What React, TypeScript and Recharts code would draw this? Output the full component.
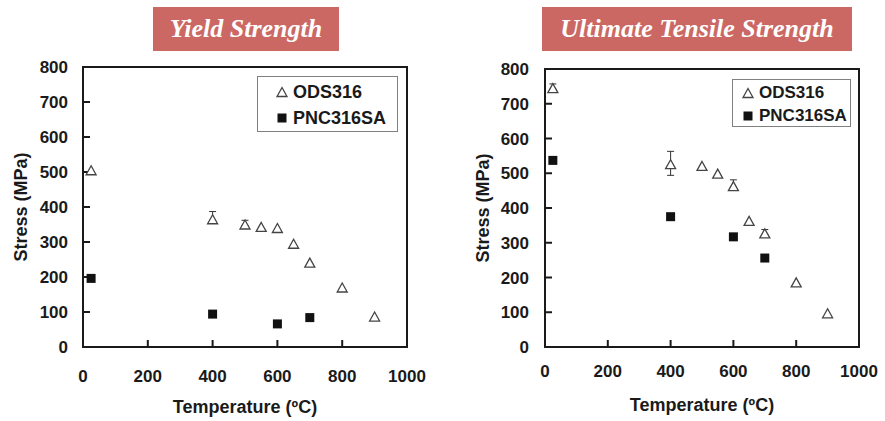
import React from "react";
import { ScatterChart, Scatter, XAxis, YAxis, ErrorBar, ReferenceArea, Legend } from "recharts";

// temperatures (ºC)
const odsTemps = [25, 400, 500, 550, 600, 650, 700, 800, 900];
const pncTemps = [25, 400, 600, 700];

// yield strength (MPa)
const odsYield = [505, 365, 350, 343, 340, 295, 241, 170, 87];
const odsYieldErr: ([number, number] | null)[] = [null, [5, 22], [3, 12], null, null, null, null, null, null];
const pncYield = [196, 94, 66, 84];

// ultimate tensile strength (MPa)
const odsUts = [745, 526, 521, 499, 463, 363, 327, 186, 97];
const odsUtsErr: ([number, number] | null)[] = [[3, 12], [32, 37], null, null, [5, 18], null, [3, 11], null, null];
const pncUts = [537, 375, 317, 256];

const xTicks = [0, 200, 400, 600, 800, 1000];
const yTicks = [0, 100, 200, 300, 400, 500, 600, 700, 800];

const FONT = "'Liberation Sans', Arial, sans-serif";
const INK = "#1a1a1a";

const Triangle = (props: any) => {
  const { cx, cy } = props;
  const w = 10, h = 9;
  return (
    <path
      d={`M${cx},${cy - h / 2}L${cx + w / 2},${cy + h / 2}L${cx - w / 2},${cy + h / 2}Z`}
      fill="#fff"
      stroke="#444"
      strokeWidth={1.3}
    />
  );
};

const Square = (props: any) => {
  const { cx, cy } = props;
  return <rect x={cx - 4.5} y={cy - 4.5} width={9} height={9} fill="#111" />;
};

function LegendBox({ payload, rowY, markerX, textX, fontSize }: any) {
  return (
    <div style={{ position: "relative", width: "100%", height: "100%", boxSizing: "border-box", border: "1.5px solid #808080", background: "#fff" }}>
      {(payload || []).map((p: any, i: number) => (
        <div key={p.value} style={{ position: "absolute", left: 0, top: rowY[i] - 12, height: 24, width: "100%" }}>
          <svg width={20} height={24} style={{ position: "absolute", left: markerX - 10, top: 0 }}>
            {i === 0 ? <Triangle cx={10} cy={12} /> : <Square cx={10} cy={12} />}
          </svg>
          <span style={{ position: "absolute", left: textX, top: 0, lineHeight: "24px", fontFamily: FONT, fontWeight: 700, fontSize, color: INK }}>
            {p.value}
          </span>
        </div>
      ))}
    </div>
  );
}

function StrengthChart({ width, margin, ods, odsErr, pnc, xTickMargin, yTickMargin, xLabelOffset, legend }: any) {
  const odsRows = odsTemps.map((t, i) => ({ t, s: ods[i], err: odsErr[i] ?? undefined }));
  const pncRows = pncTemps.map((t, i) => ({ t, s: pnc[i] }));
  const tickStyle = { fontFamily: FONT, fontWeight: 700, fontSize: 17, fill: INK };
  const labelStyle = { fontFamily: FONT, fontWeight: 700, fontSize: 18, fill: INK, textAnchor: "middle" as const };

  return (
    <ScatterChart width={width} height={421} margin={margin}>
      <XAxis
        type="number"
        dataKey="t"
        domain={[0, 1000]}
        ticks={xTicks}
        interval={0}
        height={74}
        tickSize={-7}
        tickMargin={xTickMargin}
        tick={tickStyle}
        stroke={INK}
        strokeWidth={2}
        label={{ value: "Temperature (ºC)", position: "insideBottom", offset: xLabelOffset, style: labelStyle }}
      />
      <YAxis
        type="number"
        dataKey="s"
        domain={[0, 800]}
        ticks={yTicks}
        interval={0}
        width={80}
        tickSize={-7}
        tickMargin={yTickMargin}
        tick={tickStyle}
        stroke={INK}
        strokeWidth={2}
        label={{ value: "Stress (MPa)", angle: -90, position: "insideLeft", offset: 18, style: labelStyle }}
      />
      <ReferenceArea x1={0} x2={1000} y1={0} y2={800} fill="none" stroke={INK} strokeWidth={2} />
      <Legend
        layout="horizontal"
        verticalAlign="middle"
        align="center"
        wrapperStyle={{ left: legend.left, top: legend.top, width: legend.width, height: legend.height }}
        content={(p: any) => (
          <LegendBox payload={p.payload} rowY={legend.rowY} markerX={legend.markerX} textX={legend.textX} fontSize={legend.fontSize} />
        )}
      />
      <Scatter name="ODS316" data={odsRows} shape={Triangle} isAnimationActive={false}>
        <ErrorBar dataKey="err" direction="y" width={3.5} stroke="#333" strokeWidth={1} />
      </Scatter>
      <Scatter name="PNC316SA" data={pncRows} shape={Square} isAnimationActive={false} />
    </ScatterChart>
  );
}

const titleStyle: React.CSSProperties = {
  position: "absolute",
  top: 7,
  height: 44,
  background: "#cc6863",
  color: "#fff",
  fontFamily: "'Liberation Serif', 'DejaVu Serif', serif",
  fontStyle: "italic",
  fontWeight: 700,
  fontSize: 26,
  display: "flex",
  alignItems: "center",
  justifyContent: "center",
};

export default function App() {
  return (
    <div style={{ position: "absolute", left: 0, top: 0, width: 885, height: 421, background: "#fff", overflow: "hidden" }}>
      <div style={{ position: "absolute", left: 0, top: 0 }}>
        <StrengthChart
          width={445}
          margin={{ top: 67, right: 38, bottom: 0, left: 3 }}
          ods={odsYield}
          odsErr={odsYieldErr}
          pnc={pncYield}
          xTickMargin={30}
          yTickMargin={22}
          xLabelOffset={8}
          legend={{ left: 257, top: 76, width: 141, height: 56, rowY: [15, 41], markerX: 24, textX: 35, fontSize: 18 }}
        />
      </div>
      <div style={{ position: "absolute", left: 445, top: 0 }}>
        <StrengthChart
          width={440}
          margin={{ top: 69, right: 26, bottom: 0, left: 20 }}
          ods={odsUts}
          odsErr={odsUtsErr}
          pnc={pncUts}
          xTickMargin={25}
          yTickMargin={23}
          xLabelOffset={10}
          legend={{ left: 287, top: 79, width: 119, height: 48, rowY: [13, 36], markerX: 15, textX: 26, fontSize: 17 }}
        />
      </div>
      <div style={{ ...titleStyle, left: 153, width: 186 }}>Yield Strength</div>
      <div style={{ ...titleStyle, left: 542, width: 310 }}>Ultimate Tensile Strength</div>
    </div>
  );
}
